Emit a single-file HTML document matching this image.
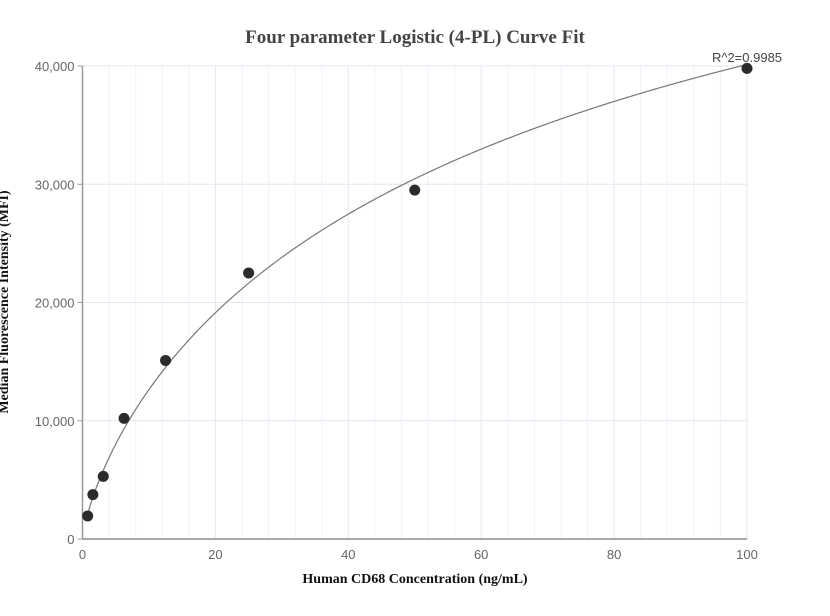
<!DOCTYPE html>
<html><head><meta charset="utf-8"><style>
body{margin:0;background:#fff}
svg{display:block}
</style></head><body>
<svg id="chart" width="830" height="616" xmlns="http://www.w3.org/2000/svg">
<text x="415" y="43" text-anchor="middle" font-family="Liberation Serif, serif" font-weight="bold" font-size="19" fill="#444">Four parameter Logistic (4-PL) Curve Fit</text>
<g id="grid"></g><g id="axes"></g><g id="curve"></g><g id="points"></g>
<text x="415" y="583" text-anchor="middle" font-family="Liberation Serif, serif" font-weight="bold" font-size="14" fill="#111">Human CD68 Concentration (ng/mL)</text>
<text transform="translate(8,302) rotate(-90)" text-anchor="middle" font-family="Liberation Serif, serif" font-weight="bold" font-size="14" fill="#111">Median Fluorescence Intensity (MFI)</text>
<text x="747" y="62" text-anchor="middle" font-family="Liberation Sans, sans-serif" font-size="13" fill="#444">R^2=0.9985</text>
</svg>
<script>
const concentrations=[0.78,1.56,3.125,6.25,12.5,25,50,100];
const mfiValues=[1950,3750,5300,10200,15100,22500,29500,39800];
const xTicks=[0,20,40,60,80,100];
const yTicks=[0,10000,20000,30000,40000];
const fitParams=[0,0.76,80,74000]; // A,B,C,D
const NS='http://www.w3.org/2000/svg';
const X0=82.5,X1=747,Y0=539,Y1=66;
const sx=v=>X0+(v/100)*(X1-X0);
const sy=v=>Y0-(v/40000)*(Y0-Y1);
function mk(tag,attrs,parent){const e=document.createElementNS(NS,tag);for(const k in attrs)e.setAttribute(k,attrs[k]);parent.appendChild(e);return e;}
const grid=document.getElementById('grid'),axes=document.getElementById('axes');
for(let v=4;v<100;v+=4){if(v%20===0)continue;
 const l=mk('line',{x1:sx(v),x2:sx(v),y1:Y1,y2:Y0,stroke:'#f0f2f8','stroke-width':1},grid);
 
 }
xTicks.forEach(v=>{
 if(v>0){const l=mk('line',{x1:sx(v),x2:sx(v),y1:Y1,y2:Y0,stroke:'#e3e7f2','stroke-width':1},grid);
 
 }
 const t=mk('text',{x:sx(v),y:Y0+20,'text-anchor':'middle','font-family':'Liberation Sans, sans-serif','font-size':13,fill:'#666'},axes);
 t.textContent=v;
 
 
});
yTicks.forEach(v=>{
 if(v>0){const l=mk('line',{x1:X0,x2:X1,y1:sy(v),y2:sy(v),stroke:'#e3e7f2','stroke-width':1},grid);
 
 }
 mk('line',{x1:X0-5,x2:X0,y1:sy(v),y2:sy(v),stroke:'#999'},axes);
 const t=mk('text',{x:X0-8,y:sy(v)+5,'text-anchor':'end','font-family':'Liberation Sans, sans-serif','font-size':13,fill:'#666'},axes);
 t.textContent=v.toLocaleString('en-US');
 
 
});
const ya=mk('line',{x1:X0,x2:X0,y1:Y1,y2:Y0,stroke:'#999','stroke-width':1.5},axes);


const xa=mk('line',{x1:X0,x2:X1,y1:Y0,y2:Y0,stroke:'#777','stroke-width':1.2},axes);


const [A,B,C,D]=fitParams;
const f=x=>D+(A-D)/(1+Math.pow(x/C,B));
let d='';const xmin=concentrations[0],xmax=concentrations[concentrations.length-1];
for(let i=0;i<=300;i++){const x=xmin+(xmax-xmin)*i/300;d+=(i?'L':'M')+sx(x).toFixed(2)+','+sy(f(x)).toFixed(2);}
const p=mk('path',{d:d,fill:'none',stroke:'#777','stroke-width':1.2},document.getElementById('curve'));


concentrations.forEach((c,i)=>{
 const e=mk('circle',{cx:sx(c),cy:sy(mfiValues[i]),r:5.5,fill:'#2b2b2b'},document.getElementById('points'));
 
 
});
</script>
</body></html>
